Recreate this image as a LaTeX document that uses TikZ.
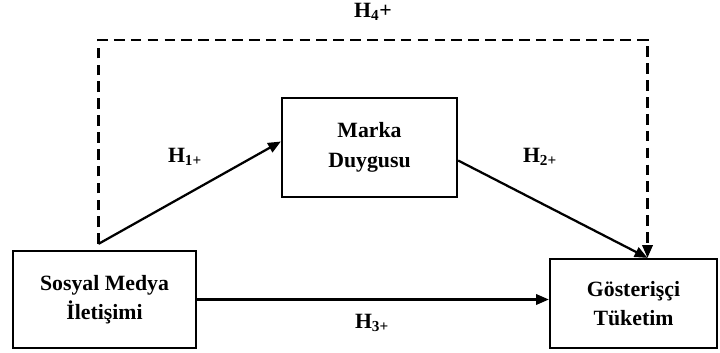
\documentclass[tikz,border=0pt]{standalone}
\usepackage{fontspec}
\setmainfont{Liberation Serif}
\usepackage{tikz}
\usetikzlibrary{positioning, calc, arrows.meta}
\tikzset{
  conbox/.style={draw=black, line width=1.6pt, align=center,
    font=\fontsize{15.5}{21}\selectfont\bfseries, inner sep=2pt},
  hlabel/.style={font=\fontsize{15.5}{18}\selectfont\bfseries, inner sep=1pt},
  hypline/.style={draw=black, line width=1.6pt, -{Triangle[length=3.2mm,width=2.6mm]}},
  hypdash/.style={hypline, dash pattern=on 7.5pt off 4.5pt}
}

\begin{document}
\begin{tikzpicture}[x=0.025cm, y=-0.025cm]
  \useasboundingbox (0,0) rectangle (720,353);
  \node[conbox, minimum width=183*0.025cm, minimum height=97*0.025cm] (smi) at (104.5,299.5) {Sosyal Medya\\İletişimi};
  \node[conbox, minimum width=175*0.025cm, minimum height=99*0.025cm] (md) at (369.5,147.5) {Marka\\Duygusu};
  \node[conbox, minimum width=167*0.025cm, minimum height=89*0.025cm] (gt) at (633.5,303.5) {Gösterişçi\\Tüketim};
  \coordinate (h4s) at ($(smi.north)+(-6,-6)$);
  \coordinate (gtin) at ($(gt.north)+(14,0)$);
  \draw[hypdash] (h4s) -- (h4s |- 0,40) -| (gtin);
  \draw[hypline] (h4s) -- ($(md.west)+(0,-6)$);
  \draw[hypline] ($(md.east)+(0,13)$) -- (gtin);
  \draw[hypline] (smi.east) -- (smi.east -| gt.west);
  \node[hlabel] (h1) at (185,157) {H\textsubscript{1+}};
  \node[hlabel] (h2) at (540,157) {H\textsubscript{2+}};
  \node[hlabel] (h3) at (372,323) {H\textsubscript{3+}};
  \node[hlabel] (h4) at (373,12) {H\textsubscript{4}+};
\end{tikzpicture}
\end{document}
